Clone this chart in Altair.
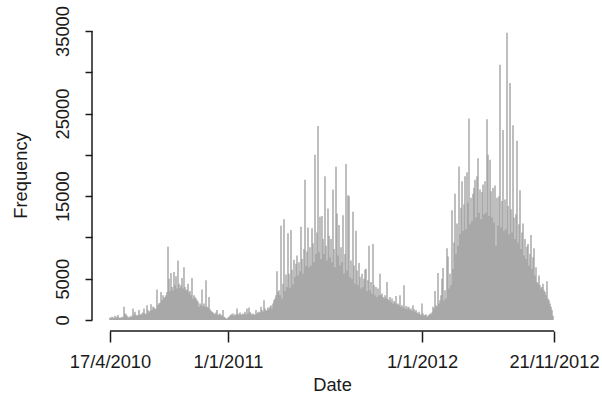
import altair as alt
import pandas as pd

# Daily frequency, one value per plotted position (17/4/2010 .. 21/11/2012)
freq = [
    300, 200, 400, 300, 200, 500, 300, 400, 600, 300,
    200, 300, 400, 300, 1600, 800, 700, 500, 300, 400,
    300, 500, 400, 1400, 700, 1000, 600, 500, 600, 1200,
    700, 600, 800, 900, 1400, 800, 700, 1800, 1200, 900,
    1100, 1900, 1200, 1600, 1500, 1300, 1400, 3700, 1800, 2000,
    2100, 3400, 2400, 3000, 2600, 2800, 3000, 3400, 8900, 5000,
    3500, 5700, 4000, 3600, 5800, 4200, 5300, 3800, 7200, 4400,
    3900, 4200, 5100, 3800, 6400, 4000, 3600, 3700, 4400, 3300,
    3500, 3000, 5100, 2600, 3000, 2800, 2600, 2400, 2200, 1600,
    2000, 1800, 3700, 1700, 2000, 1600, 4800, 1600, 1500, 2800,
    1300, 1100, 1000, 900, 800, 700, 900, 1200, 600, 700,
    800, 600, 500, 1200, 400, 300, 200, 100, 300, 400,
    500, 700, 600, 800, 500, 700, 600, 1400, 800, 600,
    900, 700, 600, 800, 700, 1000, 700, 1400, 800, 1500,
    1000, 800, 600, 800, 700, 600, 1200, 800, 900, 1000,
    900, 1600, 1200, 1000, 2400, 1400, 1100, 1200, 1500, 1300,
    1600, 1800, 1400, 2000, 2400, 2600, 3000, 5900, 3400, 3600,
    3000, 11400, 2600, 4400, 12200, 3500, 5500, 4000, 10500, 5600,
    3900, 10900, 6100, 4300, 7300, 5200, 6800, 7800, 5400, 7000,
    5900, 11300, 7400, 5600, 8600, 17000, 6500, 8300, 11200, 6400,
    8800, 6600, 11100, 9300, 7000, 20000, 8000, 10600, 23500, 8200,
    12500, 7400, 12600, 9800, 8000, 17400, 9000, 7200, 13500, 10200,
    7600, 9800, 7000, 15800, 8600, 6400, 18600, 12900, 7800, 11500,
    6600, 8800, 7000, 12700, 5600, 8000, 18900, 6000, 15100, 15000,
    5200, 7200, 5000, 13100, 6600, 4400, 10800, 6000, 4200, 6900,
    5200, 3800, 5600, 4000, 5000, 6100, 6200, 3500, 4800, 9000,
    3600, 4600, 3200, 9200, 4200, 3000, 4000, 2800, 3800, 3000,
    5600, 3000, 3200, 2800, 2600, 3000, 2700, 4600, 2500, 2400,
    2800, 2200, 2600, 2000, 2300, 2100, 2900, 1900, 2000, 1800,
    3000, 1600, 1800, 1500, 4200, 1400, 1700, 1300, 1600, 1500,
    1200, 1400, 1100, 1800, 1300, 1000, 1200, 900, 800, 1000,
    700, 600, 2000, 800, 500, 600, 700, 400, 500, 600,
    800, 700, 900, 1600, 1400, 3500, 1800, 1600, 5700, 2000,
    2400, 3000, 5000, 6300, 2400, 3600, 2600, 8700, 7700, 3800,
    5600, 4200, 13300, 6200, 9400, 15300, 8000, 11700, 9000, 18600,
    10400, 13600, 16800, 10800, 14000, 17400, 11000, 17900, 14200, 24400,
    11600, 14800, 12000, 15300, 16000, 17000, 12400, 17400, 19600, 13000,
    15800, 12200, 15500, 16400, 12800, 16800, 13000, 24300, 20000, 12600,
    19400, 15600, 12400, 16000, 11800, 16300, 9000, 14800, 11400, 15000,
    30900, 11200, 14400, 23000, 10800, 14600, 11000, 34800, 13800, 10400,
    28700, 13400, 10600, 23600, 12400, 9800, 12800, 21700, 9400, 11600,
    15700, 8600, 10600, 11700, 7800, 9800, 7400, 8900, 9200, 6600,
    8000, 10300, 6200, 7600, 8700, 5400, 6400, 4600, 4400, 5400,
    4200, 3800, 4000, 4400, 3600, 3400, 3000, 4700, 2600, 2400,
    2000, 1600, 1200, 500,
]

# Axis ticks
x_tick_pos = [0, 118, 312, 444]
x_tick_labels = ["17/4/2010", "1/1/2011", "1/1/2012", "21/11/2012"]
y_ticks = [0, 5000, 10000, 15000, 20000, 25000, 30000, 35000]
y_labelled = [0, 5000, 15000, 25000, 35000]

FONT = "Liberation Sans"
INK = "#1a1a1a"
FS = 18.3

df = pd.DataFrame({"idx": list(range(len(freq))), "freq": freq})

x_label_expr = " : ".join(
    f"datum.value == {p} ? '{t}'" for p, t in zip(x_tick_pos, x_tick_labels)
) + " : ''"
y_label_expr = (
    "indexof([" + ",".join(str(v) for v in y_labelled) + "], datum.value) >= 0 ? "
    "format(datum.value, 'd') : ''"
)

x_enc = alt.X(
    "idx:Q",
    scale=alt.Scale(domain=[-18, 462], nice=False, zero=False),
    axis=alt.Axis(
        values=x_tick_pos, labelExpr=x_label_expr, domain=False, grid=False,
        tickSize=11, tickColor=INK, tickWidth=1.5,
        labelFont=FONT, labelFontSize=FS, labelColor=INK, labelPadding=11,
        labelOverlap=False, labelFlush=False, labelBound=False,
        title="Date", titleFont=FONT, titleFontSize=FS, titleFontWeight="normal",
        titleColor=INK, titleX=240, titleY=59, titleBaseline="alphabetic",
        titleAlign="center",
    ),
)

y_enc = alt.Y(
    "freq:Q",
    scale=alt.Scale(domain=[-1332, 36454], nice=False, zero=False),
    axis=alt.Axis(
        values=y_ticks, labelExpr=y_label_expr, domain=False, grid=False,
        tickSize=7, tickColor=INK, tickWidth=1.5,
        labelFont=FONT, labelFontSize=FS, labelColor=INK, labelPadding=17,
        labelAngle=270, labelAlign="center", labelBaseline="alphabetic",
        labelOverlap=False, labelFlush=False, labelBound=False,
        title="Frequency", titleFont=FONT, titleFontSize=FS, titleFontWeight="normal",
        titleColor=INK, titleAngle=270, titleX=-66, titleY=156,
        titleBaseline="alphabetic", titleAlign="center",
    ),
)

# Vertical lines, one per position
bars = alt.Chart(df).mark_rule(color="#9c9c9c", strokeWidth=1.3).encode(
    x=x_enc, y=y_enc, y2=alt.datum(0)
)

# Axis lines spanning only the tick range
x_line_df = pd.DataFrame({"idx": [x_tick_pos[0]], "idx_end": [x_tick_pos[-1]]})
x_line = alt.Chart(x_line_df).mark_rule(color=INK, strokeWidth=1.5).encode(
    x=x_enc, x2="idx_end:Q", y=alt.value(312)
)

y_line_df = pd.DataFrame({"freq": [y_ticks[0]], "freq_end": [y_ticks[-1]]})
y_line = alt.Chart(y_line_df).mark_rule(color=INK, strokeWidth=1.5).encode(
    y=y_enc, y2="freq_end:Q", x=alt.value(0)
)

chart = (
    alt.layer(bars, x_line, y_line)
    .properties(
        width=480, height=312, autosize="none",
        padding={"left": 92, "top": 19, "right": 30, "bottom": 69},
        background="white",
    )
    .configure_view(stroke=None)
)

chart.save("out.html", embed_options={"renderer": "svg", "actions": False})
